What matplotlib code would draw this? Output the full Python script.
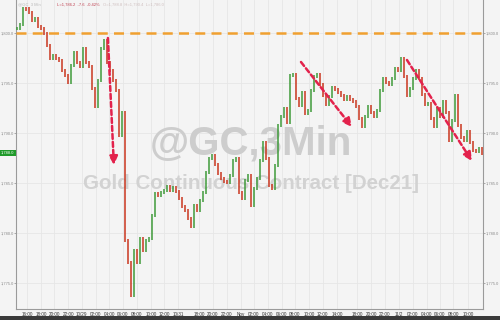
import matplotlib
matplotlib.use("Agg")
import matplotlib.pyplot as plt
from matplotlib.patches import Rectangle

# ---------------- data ----------------
closes = [
    1800.5, 1800.9, 1802.5, 1802.4, 1802.1, 1801.3, 1801.5, 1800.7, 1800.5, 1800.0,
    1798.8, 1797.5, 1797.8, 1797.5, 1797.3, 1796.3, 1795.8, 1795.1, 1796.8, 1798.1,
    1797.1, 1796.7, 1798.5, 1797.1, 1796.7, 1794.5, 1792.7, 1795.3, 1798.5, 1799.3,
    1797.1, 1796.3, 1795.3, 1794.3, 1789.8, 1792.1, 1779.3, 1777.1, 1773.8, 1778.3,
    1777.1, 1779.5, 1778.3, 1779.3, 1779.5, 1781.8, 1784.0, 1783.8, 1784.1, 1784.3,
    1784.7, 1784.3, 1784.6, 1784.2, 1783.5, 1782.7, 1782.3, 1781.5, 1780.7, 1782.8,
    1782.3, 1783.3, 1784.1, 1786.1, 1787.5, 1787.8, 1786.9, 1786.0, 1785.5, 1785.2,
    1785.1, 1785.8, 1787.3, 1787.5, 1784.1, 1783.5, 1785.3, 1785.8, 1782.8, 1784.5,
    1785.5, 1787.3, 1789.1, 1787.5, 1784.8, 1784.5, 1786.8, 1790.8, 1791.7, 1792.5,
    1791.1, 1795.8, 1795.9, 1793.5, 1792.8, 1794.1, 1792.0, 1792.3, 1794.3, 1795.7,
    1795.9, 1794.9, 1793.8, 1792.9, 1793.7, 1794.6, 1794.4, 1794.1, 1793.8, 1793.4,
    1793.7, 1793.4, 1793.2, 1792.7, 1791.5, 1790.7, 1791.7, 1792.7, 1792.1, 1791.7,
    1792.3, 1794.3, 1795.5, 1795.1, 1794.9, 1795.5, 1796.5, 1796.3, 1797.5, 1795.7,
    1793.8, 1794.5, 1795.5, 1796.3, 1795.5, 1793.9, 1792.9, 1793.0, 1791.5, 1790.7,
    1792.5, 1791.7, 1793.2, 1792.1, 1789.3, 1791.3, 1793.8, 1790.8, 1789.6, 1789.3,
    1790.2, 1789.1, 1788.3, 1788.2, 1788.5, 1788.0,
]

tick_idx = [3.2, 7.9, 12.2, 16.9, 21.5, 26.2, 30.6, 35.2, 39.9, 44.6, 48.9, 53.6,
            60.6, 65.3, 70.0, 74.6, 79.0, 83.7, 88.3, 92.7, 97.4, 102.0, 106.7,
            113.4, 118.1, 122.7, 127.4, 132.1, 136.8, 141.1, 145.5, 150.5]
tick_labels = ["16:00", "18:00", "20:00", "22:00", "10/29", "02:00", "04:00", "06:00",
               "08:00", "10:00", "12:00", "10/31", "18:00", "20:00", "22:00", "Nov",
               "02:00", "04:00", "06:00", "08:00", "10:00", "12:00", "14:00",
               "18:00", "20:00", "22:00", "11/2", "02:00", "04:00", "06:00",
               "08:00", "10:00"]

price_ticks = [1775, 1780, 1785, 1790, 1795, 1800]
resistance = 1800.0

# trend arrows: (x0, y0, x1, y1) in bar index / price
arrows = [
    (30.2, 1799.5, 32.2, 1786.8),
    (94.7, 1797.1, 111.7, 1790.6),
    (130.1, 1797.3, 151.8, 1787.2),
]

header_parts = [
    ("@GC  3 Min", "#b8b8b8"),
    ("L=1,786.2  -7.6  -0.42%", "#c04050"),
    ("O=1,788.8  H=1,790.4  L=1,786.0", "#d0c0c0"),
]

# ---------------- figure ----------------
W, H = 500, 320
FONT = "Liberation Sans"
fig = plt.figure(figsize=(5.0, 3.2), dpi=100)
fig.patch.set_facecolor("#f4f4f4")
ax = fig.add_axes([16 / W, 11 / H, 467 / W, 309 / H])
ax.set_facecolor("#f4f4f4")

n = len(closes)
ax.set_xlim(-0.5, n - 0.5)
ax.set_ylim(1772.4, 1803.3)

# grid
for t in tick_idx:
    ax.axvline(t, color="#e6e6e6", lw=0.6, zorder=0)
for p in price_ticks:
    ax.axhline(p, color="#e6e6e6", lw=0.6, zorder=0)

# candles
up_c, dn_c = "#3f9a3a", "#c9361f"
for i, c in enumerate(closes):
    o = closes[i - 1] if i > 0 else c
    col = up_c if c >= o else dn_c
    lo, hi = min(o, c), max(o, c)
    ax.vlines(i, lo - 0.15, hi + 0.15, color=col, lw=1.1, zorder=3)

# resistance line
ax.axhline(resistance, color="#f0a030", lw=1.8, dashes=(4, 2.5), zorder=4)

# arrows
arrow_col = "#e3224c"
for x0, y0, x1, y1 in arrows:
    ax.annotate("", xy=(x1, y1), xytext=(x0, y0),
                arrowprops=dict(arrowstyle="-|>,head_length=0.5,head_width=0.25",
                                color=arrow_col, lw=1.8, linestyle=(0, (2, 1.2)),
                                shrinkA=0, shrinkB=0), zorder=5)

# watermark
ax.text(0.503, 0.535, "@GC,3Min", transform=ax.transAxes, ha="center", va="center",
        fontsize=29, fontweight="bold", family=FONT, color="#cdcdcd", zorder=1)
ax.text(0.503, 0.405, "Gold Continuous Contract [Dec21]", transform=ax.transAxes,
        ha="center", va="center", fontsize=14.8, fontweight="bold",
        family=FONT, color="#d2d2d2", zorder=1)

# axes styling
ax.spines["top"].set_visible(False)
for s in ["left", "right", "bottom"]:
    ax.spines[s].set_color("#9a9a9a")
    ax.spines[s].set_linewidth(0.8)

ax.set_xticks(tick_idx)
ax.set_xticklabels(tick_labels, fontsize=3.3, color="#333333", family=FONT)
ax.tick_params(axis="x", length=0, pad=2)

ax.set_yticks(price_ticks)
ax.set_yticklabels([f"{p:,.1f}" for p in price_ticks], fontsize=2.9, color="#8a8a8a",
                   family=FONT)
ax.tick_params(axis="y", length=1.2, width=0.5, colors="#8a8a8a",
               pad=0.6, left=True, right=True, labelleft=True, labelright=True)
for lab in ax.get_yticklabels(which="both"):
    lab.set_family(FONT)
    lab.set_fontsize(2.9)
for lab in ax.yaxis.get_ticklabels(minor=False):
    lab.set_family(FONT)
for t in ax.yaxis.get_major_ticks():
    t.label2.set_family(FONT)
    t.label2.set_fontsize(2.9)
    t.label2.set_color("#8a8a8a")

# last price tag
last = closes[-1]
ax.annotate(f"{last:,.1f}", xy=(0, last), xycoords=("axes fraction", "data"),
            xytext=(-1.2, 0), textcoords="offset points", ha="right", va="center",
            fontsize=2.9, color="white", family=FONT,
            bbox=dict(boxstyle="square,pad=0.3", fc="#1f9a2a", ec="none"), zorder=6)

# header
hx = [0.004, 0.088, 0.186]
for (txt, col), xx in zip(header_parts, hx):
    ax.text(xx, 0.993, txt, transform=ax.transAxes, ha="left", va="top",
            fontsize=3.0, color=col, family=FONT, zorder=6)

# bottom dark strip
fig.patches.append(Rectangle((0, 0), 1, 4 / H, transform=fig.transFigure,
                             facecolor="#3a3a3a", edgecolor="none"))

fig.savefig("out.png", dpi=100, facecolor=fig.get_facecolor())
